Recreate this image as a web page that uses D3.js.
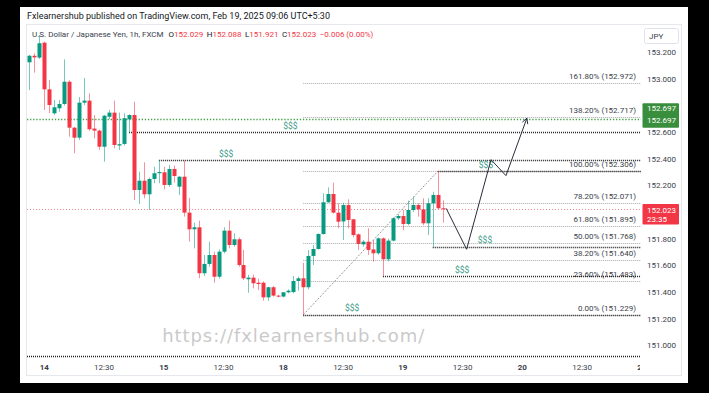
<!DOCTYPE html>
<html>
<head>
<meta charset="utf-8">
<script src="https://cdn.jsdelivr.net/npm/d3@7"></script>
<style>
body { margin: 0; background: #000; }
svg { display: block; }
text { font-family: Roboto, "Noto Sans", sans-serif; }
</style>
</head>
<body>
<script>
(function () {
	"use strict";

	let w = 709;
	let h = 393;

	// hourly bars, first one is 3 hours before the "14" tick
	const firstHour = -3;
	const open = [153.125, 153.174, 153.160, 153.272, 152.922, 152.742, 152.780, 152.812, 152.979, 152.634,
		152.559, 152.822, 152.837, 152.627, 152.612, 152.491, 152.716, 152.747, 152.500, 152.512,
		152.697, 152.729, 152.166, 152.236, 152.134, 152.249, 152.292, 152.299, 152.204, 152.324,
		152.191, 152.266, 151.996, 151.871, 151.886, 151.541, 151.611, 151.678, 151.515, 151.703,
		151.861, 151.753, 151.796, 151.603, 151.496, 151.508, 151.470, 151.470, 151.360, 151.436,
		151.373, 151.366, 151.398, 151.400, 151.483, 151.503, 151.436, 151.671, 151.723, 151.836,
		152.074, 152.136, 151.996, 151.930, 152.053, 151.946, 151.833, 151.758, 151.778, 151.720,
		151.691, 151.803, 151.646, 151.786, 151.954, 151.971, 151.911, 152.016, 152.053, 152.021,
		151.916, 152.066, 152.129, 152.029];
	const high = [153.180, 153.192, 153.330, 153.280, 152.992, 152.842, 152.842, 153.147, 152.990, 152.640,
		152.864, 153.007, 152.892, 152.729, 152.620, 152.730, 152.767, 152.837, 152.747, 152.742,
		152.735, 152.829, 152.304, 152.374, 152.260, 152.341, 152.391, 152.341, 152.354, 152.349,
		152.270, 152.386, 152.106, 151.921, 151.936, 151.678, 151.778, 151.703, 151.720, 151.886,
		151.936, 151.841, 151.810, 151.716, 151.530, 151.530, 151.500, 151.480, 151.440, 151.445,
		151.380, 151.400, 151.420, 151.520, 151.515, 151.620, 151.716, 151.753, 151.840, 152.141,
		152.186, 152.221, 152.066, 152.070, 152.096, 151.950, 151.840, 151.790, 151.879, 151.790,
		151.810, 151.810, 151.800, 151.960, 151.986, 152.016, 152.086, 152.116, 152.066, 152.104,
		152.104, 152.153, 152.306, 152.088];
	const low = [152.917, 153.047, 153.150, 152.767, 152.744, 152.729, 152.754, 152.800, 152.566, 152.442,
		152.541, 152.804, 152.610, 152.554, 152.466, 152.379, 152.700, 152.479, 152.466, 152.500,
		152.592, 152.091, 152.061, 152.104, 152.016, 152.217, 152.217, 152.171, 152.190, 152.221,
		152.129, 151.966, 151.778, 151.728, 151.503, 151.520, 151.590, 151.470, 151.500, 151.690,
		151.728, 151.740, 151.590, 151.490, 151.395, 151.428, 151.415, 151.335, 151.335, 151.365,
		151.360, 151.360, 151.390, 151.390, 151.410, 151.229, 151.420, 151.603, 151.720, 151.830,
		152.070, 151.990, 151.879, 151.791, 151.879, 151.810, 151.716, 151.740, 151.678, 151.628,
		151.680, 151.520, 151.630, 151.780, 151.940, 151.866, 151.900, 152.000, 151.966, 151.903,
		151.828, 151.740, 152.020, 151.921];
	const close = [153.174, 153.162, 153.268, 152.922, 152.804, 152.787, 152.812, 152.979, 152.634, 152.559,
		152.822, 152.837, 152.622, 152.612, 152.491, 152.724, 152.747, 152.504, 152.510, 152.705,
		152.729, 152.166, 152.236, 152.134, 152.249, 152.292, 152.301, 152.204, 152.324, 152.271,
		152.266, 151.996, 151.871, 151.886, 151.541, 151.611, 151.678, 151.515, 151.703, 151.861,
		151.753, 151.796, 151.603, 151.503, 151.508, 151.466, 151.460, 151.360, 151.436, 151.373,
		151.366, 151.398, 151.410, 151.483, 151.503, 151.436, 151.671, 151.723, 151.836, 152.074,
		152.136, 151.996, 151.928, 152.053, 151.941, 151.828, 151.761, 151.778, 151.716, 151.691,
		151.803, 151.646, 151.786, 151.954, 151.971, 151.911, 152.016, 152.053, 152.021, 151.916,
		152.066, 152.129, 152.029, 152.023];

	// drawings
	const fibFrom = { hour: 52, price: 151.229 };
	const fibTo = { hour: 79, price: 152.306 };
	const fibRatios = [0, 0.236, 0.382, 0.5, 0.618, 0.782, 1, 1.382, 1.618];
	const liqPrices = [152.600, 152.390, 152.306, 151.740, 151.520, 151.229];
	const liqStart = [17, 23, 79, 78, 68, 52];
	const liqLabelAt = [49.4, 36.5, 88.7, 88.5, 83.9, 61.8];
	const greenLevel = 152.697;
	const bottomLevel = 150.922;
	const lastPrice = 152.023;
	const pathHours = [80.7, 84.8, 89.7, 92.7, 96.9];
	const pathPrices = [152.028, 151.721, 152.394, 152.274, 152.705];

	const priceTicks = [153.2, 153.0, 152.6, 152.4, 152.2, 151.8, 151.6, 151.4, 151.2, 151.0];
	const timeTicks = [0, 12, 24, 36, 48, 60, 72, 84, 96, 108, 120];
	const timeLabels = ['14', '12:30', '15', '12:30', '18', '12:30', '19', '12:30', '20', '12:30', '21'];

	const up = '#089981', down = '#f23645';

	let x = d3.scaleLinear().domain([0, 120]).range([44.3, 641.9]);
	let y = d3.scaleLinear().domain([151, 153.2]).range([345.3, 52.3]);

	let svg = d3.select('body').append('svg').attr('width', w).attr('height', h);

	svg.append('rect').attr('width', w).attr('height', h).attr('fill', '#000');
	svg.append('rect').attr('x', 20).attr('y', 7).attr('width', 668).attr('height', 376).attr('fill', '#fff');
	svg.append('rect').attr('x', 26.5).attr('y', 24.5).attr('width', 655).attr('height', 351)
		.attr('fill', 'none').attr('stroke', '#e6e8ee');

	svg.append('text').attr('x', 27).attr('y', 19).attr('font-size', 9).attr('fill', '#131722')
		.text('Fxlearnershub published on TradingView.com, Feb 19, 2025 09:06 UTC+5:30');

	let defs = svg.append('defs');
	defs.append('clipPath').attr('id', 'plot').append('rect')
		.attr('x', 27).attr('y', 25).attr('width', 614).attr('height', 334);
	defs.append('clipPath').attr('id', 'taxis').append('rect')
		.attr('x', 27).attr('y', 358).attr('width', 613).attr('height', 17);

	let plot = svg.append('g').attr('clip-path', 'url(#plot)');
	let px = (v) => Math.round(v) + 0.5;

	// watermark
	plot.append('text').attr('x', x(23.7)).attr('y', 342).attr('font-size', 18)
		.style('font-family', '"DejaVu Sans", sans-serif').style('letter-spacing', '0.9px')
		.attr('fill', '#cacaca')
		.text('https://fxlearnershub.com/');

	// horizontal levels
	plot.append('line').attr('x1', 27).attr('x2', 641).attr('y1', px(y(greenLevel))).attr('y2', px(y(greenLevel)))
		.attr('stroke', '#43a047').attr('stroke-width', 1.4).attr('stroke-dasharray', '1.3,1.8');
	plot.append('line').attr('x1', 27).attr('x2', 641).attr('y1', px(y(lastPrice))).attr('y2', px(y(lastPrice)))
		.attr('stroke', '#f23645').attr('stroke-opacity', 0.6).attr('stroke-dasharray', '1,2');
	plot.append('line').attr('x1', 27).attr('x2', 641).attr('y1', px(y(bottomLevel))).attr('y2', px(y(bottomLevel)))
		.attr('stroke', '#222').attr('stroke-width', 1.4).attr('stroke-dasharray', '1,1');

	// fibonacci retracement
	let range = fibTo.price - fibFrom.price;
	let fibs = fibRatios.map((r) => ({ r: r, p: fibFrom.price + r * range }));
	plot.selectAll('line.fib').data(fibs).enter().append('line').attr('class', 'fib')
		.attr('x1', x(fibFrom.hour)).attr('x2', 641)
		.attr('y1', (d) => px(y(+d.p.toFixed(3)))).attr('y2', (d) => px(y(+d.p.toFixed(3))))
		.attr('stroke', '#a8a8a8').attr('stroke-dasharray', '1,1');
	plot.selectAll('text.fib').data(fibs).enter().append('text').attr('class', 'fib')
		.attr('x', 636).attr('y', (d) => y(d.p) - 4).attr('text-anchor', 'end')
		.attr('font-size', 8).attr('fill', '#3a3e4a')
		.text((d) => (d.r * 100).toFixed(2) + '% (' + d.p.toFixed(3) + ')');
	plot.append('line').attr('x1', x(fibFrom.hour)).attr('y1', y(fibFrom.price))
		.attr('x2', x(fibTo.hour)).attr('y2', y(fibTo.price))
		.attr('stroke', '#9a9a9a').attr('stroke-dasharray', '2,1.5');

	// liquidity levels
	let liq = liqPrices.map((p, i) => ({ p: p, from: liqStart[i], at: liqLabelAt[i] }));
	plot.selectAll('line.liq').data(liq).enter().append('line').attr('class', 'liq')
		.attr('x1', (d) => x(d.from)).attr('x2', 641)
		.attr('y1', (d) => px(y(d.p))).attr('y2', (d) => px(y(d.p)))
		.attr('stroke', '#222').attr('stroke-width', 1.4).attr('stroke-dasharray', '1,1');
	plot.selectAll('text.liq').data(liq).enter().append('text').attr('class', 'liq')
		.attr('x', (d) => x(d.at)).attr('y', (d) => y(d.p) - 3.5).attr('text-anchor', 'middle')
		.attr('font-size', 8.5).attr('fill', '#3d9c8a').text('$$$');

	// candles
	let bars = open.map((o, i) => ({ hr: firstHour + i, o: o, hi: high[i], lo: low[i], c: close[i] }));
	plot.selectAll('line.wick').data(bars).enter().append('line').attr('class', 'wick')
		.attr('x1', (d) => px(x(d.hr))).attr('x2', (d) => px(x(d.hr)))
		.attr('y1', (d) => y(d.hi)).attr('y2', (d) => y(d.lo))
		.attr('stroke', (d) => d.c >= d.o ? up : down).attr('stroke-opacity', 0.55);
	plot.selectAll('rect.body').data(bars).enter().append('rect').attr('class', 'body')
		.attr('x', (d) => px(x(d.hr)) - 2).attr('width', 4)
		.attr('y', (d) => y(Math.max(d.o, d.c)))
		.attr('height', (d) => Math.max(1, Math.abs(y(d.o) - y(d.c))))
		.attr('fill', (d) => d.c >= d.o ? up : down);

	// projected path with arrow
	let pts = pathHours.map((hr, i) => [x(hr), y(pathPrices[i])]);
	plot.append('path').attr('d', d3.line()(pts)).attr('fill', 'none')
		.attr('stroke', '#2a2e39').attr('stroke-width', 1);
	let a = pts[pts.length - 1], b = pts[pts.length - 2];
	let ang = Math.atan2(a[1] - b[1], a[0] - b[0]);
	let head = [-0.5, 0.5].map((s) => [a[0] - 6 * Math.cos(ang + s), a[1] - 6 * Math.sin(ang + s)]);
	plot.append('path').attr('d', d3.line()([head[0], a, head[1]])).attr('fill', 'none')
		.attr('stroke', '#2a2e39').attr('stroke-width', 1);

	// legend
	let legend = svg.append('text').attr('x', 32).attr('y', 37).attr('font-size', 8).attr('fill', '#3a3e4a');
	legend.append('tspan').text('U.S. Dollar / Japanese Yen, 1h, FXCM');
	let last = bars[bars.length - 1];
	let prev = bars[bars.length - 2];
	[['O', last.o], ['H', last.hi], ['L', last.lo], ['C', last.c]].forEach((kv, i) => {
		legend.append('tspan').attr('dx', i === 0 ? 5 : 3.5).attr('fill', '#131722').text(kv[0]);
		legend.append('tspan').attr('fill', down).text(kv[1].toFixed(3));
	});
	let chg = last.c - prev.c;
	legend.append('tspan').attr('dx', 3.5).attr('fill', down)
		.text(d3.format('.3f')(chg).replace('-', '\u2212') + ' (' + d3.format('.2%')(chg / prev.c).replace('-', '\u2212') + ')');

	// price axis
	svg.selectAll('text.ptick').data(priceTicks).enter().append('text').attr('class', 'ptick')
		.attr('x', 676).attr('y', (d) => y(d) + 3).attr('text-anchor', 'end')
		.attr('font-size', 8).attr('fill', '#3a3e4a').text((d) => d3.format('.3f')(d));
	svg.append('rect').attr('x', 644.5).attr('y', 28.5).attr('width', 34).attr('height', 15).attr('rx', 2)
		.attr('fill', '#fff').attr('stroke', '#e0e3eb');
	svg.append('text').attr('x', 649).attr('y', 39).attr('font-size', 8).attr('fill', '#3a3e4a').text('JPY');

	let gy = y(greenLevel);
	svg.append('rect').attr('x', 642.5).attr('y', gy - 16).attr('width', 36.5).attr('height', 24.5).attr('rx', 1)
		.attr('fill', '#388e3c');
	svg.append('text').attr('x', 647).attr('y', gy - 8.5).attr('font-size', 8).attr('fill', '#fff').text(greenLevel.toFixed(3));
	svg.append('text').attr('x', 647).attr('y', gy + 3.5).attr('font-size', 8).attr('fill', '#fff').text(greenLevel.toFixed(3));

	let ry = y(lastPrice);
	svg.append('rect').attr('x', 642.5).attr('y', ry - 5).attr('width', 36.5).attr('height', 20.5).attr('rx', 1)
		.attr('fill', down);
	svg.append('text').attr('x', 647).attr('y', ry + 4).attr('font-size', 8).attr('fill', '#fff').text(lastPrice.toFixed(3));
	svg.append('text').attr('x', 647).attr('y', ry + 13).attr('font-size', 8).attr('fill', '#fff').text('23:35');

	// time axis
	svg.append('g').attr('clip-path', 'url(#taxis)').selectAll('text').data(timeTicks).enter().append('text')
		.attr('x', (d) => x(d)).attr('y', 370).attr('text-anchor', 'middle').attr('font-size', 8)
		.attr('font-weight', (d, i) => timeLabels[i].indexOf(':') < 0 ? 'bold' : 'normal')
		.attr('fill', '#3a3e4a').text((d, i) => timeLabels[i]);
})();
</script>
</body>
</html>
